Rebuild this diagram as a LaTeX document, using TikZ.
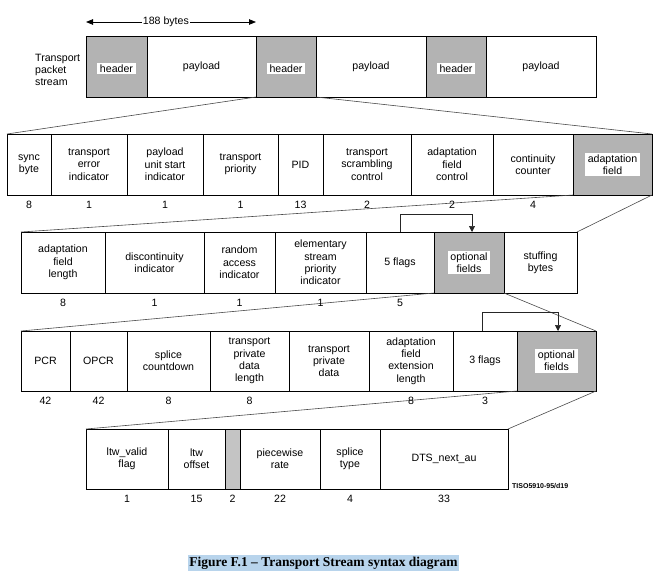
\documentclass[tikz,border=0pt]{standalone}
\usepackage{fontspec}
\setmainfont{Liberation Sans}
\newfontfamily\capfont{Liberation Serif}
\usetikzlibrary{arrows.meta,calc}

\definecolor{fieldgray}{HTML}{B3B3B3}
\definecolor{padgray}{HTML}{C4C4C4}
\definecolor{selblue}{HTML}{B8D4EC}
\definecolor{linkgray}{HTML}{4A4A4A}

\newcommand\fs{\fontsize{10.6}{12.3}\selectfont}

\tikzset{
  field/.style={draw=black, line width=0.9pt, anchor=north west, inner sep=0pt,
                outer sep=0pt, align=center, font=\fs},
  shaded/.style={field, fill=fieldgray},
  tag/.style={fill=white, inner xsep=2.5pt, inner ysep=1.5pt, align=center, font=\fs},
  bits/.style={font=\fs, inner sep=0pt},
  fan/.style={draw=linkgray, line width=0.6pt},
  flagarrow/.style={draw=black!85, line width=0.6pt, -{Triangle[length=6pt,width=6pt]}},
  spanarrow/.style={draw=black, line width=0.8pt,
                    {Triangle[length=7pt,width=5.5pt]}-{Triangle[length=7pt,width=5.5pt]}},
}

\begin{document}
\begin{tikzpicture}[x=1pt, y=-1pt]
\useasboundingbox (0,0) rectangle (660,578);

% ---------- transport packet stream ----------
\node[font=\fs, align=left, anchor=west, inner sep=0pt] (tps) at (35,70) {Transport\\packet\\stream};
\node[shaded, minimum width=61,  minimum height=61] (hdrA) at (86,36)  {};
\node[field,  minimum width=109, minimum height=61] (payA) at (147,36) {payload};
\node[shaded, minimum width=60,  minimum height=61] (hdrB) at (256,36) {};
\node[field,  minimum width=110, minimum height=61] (payB) at (316,36) {payload};
\node[shaded, minimum width=60,  minimum height=61] (hdrC) at (426,36) {};
\node[field,  minimum width=110, minimum height=61] (payC) at (486,36) {payload};
\node[tag] (hdrAt) at ([yshift=-2pt]hdrA) {header};
\node[tag] (hdrBt) at ([yshift=-2pt]hdrB) {header};
\node[tag] (hdrCt) at ([yshift=-2pt]hdrC) {header};

\coordinate (spanL) at ([yshift=14pt]hdrA.north west);
\coordinate (spanR) at ([yshift=14pt]hdrB.north west);
\draw[spanarrow] (spanL) -- (spanR);
\node[font=\fs, fill=white, inner xsep=1pt, inner ysep=0.5pt] (spanlbl) at ($(spanL)!0.47!(spanR)$) {188 bytes};

% ---------- packet header ----------
\node[field,  minimum width=44, minimum height=61] (sync)  at (7,134)   {sync\\byte};
\node[field,  minimum width=76, minimum height=61] (tei)   at (51,134)  {transport\\error\\indicator};
\node[field,  minimum width=76, minimum height=61] (pusi)  at (127,134) {payload\\unit start\\indicator};
\node[field,  minimum width=75, minimum height=61] (tprio) at (203,134) {transport\\priority};
\node[field,  minimum width=45, minimum height=61] (pid)   at (278,134) {PID};
\node[field,  minimum width=88, minimum height=61] (tsc)   at (323,134) {transport\\scrambling\\control};
\node[field,  minimum width=82, minimum height=61] (afc)   at (411,134) {adaptation\\field\\control};
\node[field,  minimum width=80, minimum height=61] (cc)    at (493,134) {continuity\\counter};
\node[shaded, minimum width=79, minimum height=61] (adapt) at (573,134) {};
\node[tag] (adaptt) at (adapt) {adaptation\\field};

% ---------- adaptation field ----------
\node[field,  minimum width=84, minimum height=61] (afl)   at (21,232)  {adaptation\\field\\length};
\node[field,  minimum width=99, minimum height=61] (disc)  at (105,232) {discontinuity\\indicator};
\node[field,  minimum width=71, minimum height=61] (rai)   at (204,232) {random\\access\\indicator};
\node[field,  minimum width=91, minimum height=61] (espi)  at (275,232) {elementary\\stream\\priority\\indicator};
\node[field,  minimum width=68, minimum height=61] (fivef) at (366,232) {5 flags};
\node[shaded, minimum width=70, minimum height=61] (optA)  at (434,232) {};
\node[field,  minimum width=73, minimum height=61] (stuff) at (504,232) {stuffing\\bytes};
\node[tag] (optAt) at (optA) {optional\\fields};

% ---------- optional fields ----------
\node[field,  minimum width=49, minimum height=60] (pcr)    at (21,331)  {PCR};
\node[field,  minimum width=57, minimum height=60] (opcr)   at (70,331)  {OPCR};
\node[field,  minimum width=83, minimum height=60] (splice) at (127,331) {splice\\countdown};
\node[field,  minimum width=79, minimum height=60] (tpdl)   at (210,331) {transport\\private\\data\\length};
\node[field,  minimum width=80, minimum height=60] (tpd)    at (289,331) {transport\\private\\data};
\node[field,  minimum width=84, minimum height=60] (afel)   at (369,331) {adaptation\\field\\extension\\length};
\node[field,  minimum width=64, minimum height=60] (threef) at (453,331) {3 flags};
\node[shaded, minimum width=79, minimum height=60] (optB)   at (517,331) {};
\node[tag] (optBt) at (optB) {optional\\fields};

% ---------- extension fields ----------
\node[field, minimum width=82,  minimum height=60] (ltwv)  at (86,429)  {ltw\_valid\\flag};
\node[field, minimum width=57,  minimum height=60] (ltwo)  at (168,429) {ltw\\offset};
\node[field, minimum width=15,  minimum height=60, fill=padgray] (resv) at (225,429) {};
\node[field, minimum width=80,  minimum height=60] (pwr)   at (240,429) {piecewise\\rate};
\node[field, minimum width=60,  minimum height=60] (stype) at (320,429) {splice\\type};
\node[field, minimum width=128, minimum height=60] (dts)   at (380,429) {DTS\_next\_au};
\node[font=\bfseries\fontsize{7}{8}\selectfont, anchor=base west, inner sep=0pt] (tiso)
  at ([xshift=4pt,yshift=1pt]dts.south east) {TISO5910-95/d19};

% ---------- expansion lines ----------
\draw[fan] (hdrB.south west)  -- (sync.north west);
\draw[fan] (hdrB.south east)  -- (adapt.north east);
\draw[fan] (adapt.south west) -- (afl.north west);
\draw[fan] (adapt.south east) -- (stuff.north east);
\draw[fan] (optA.south west)  -- (pcr.north west);
\draw[fan] (optA.south east)  -- (optB.north east);
\draw[fan] (optB.south west)  -- (ltwv.north west);
\draw[fan] (optB.south east)  -- (dts.north east);

% ---------- flag arrows ----------
\draw[flagarrow] (fivef.north) -- ++(0,-18) -| ([xshift=3pt]optA.north);
\draw[flagarrow] ([xshift=-3pt]threef.north) -- ++(0,-19) -| ([xshift=1.5pt]optB.north);

% ---------- bit counts ----------
\foreach \f/\n in {sync/8, tei/1, pusi/1, tprio/1, pid/13, tsc/2, afc/2, cc/4,
                   afl/8, disc/1, rai/1, espi/1, fivef/5,
                   pcr/42, opcr/42, splice/8, tpdl/8, afel/8, threef/3,
                   ltwv/1, ltwo/15, resv/2, pwr/22, stype/4, dts/33}
  \node[bits] (bits-\f) at ([yshift=-9.5pt]\f.south) {\n};

% ---------- caption ----------
\node[font=\capfont\bfseries\fontsize{13.5}{15}\selectfont, fill=selblue, inner xsep=1pt, inner ysep=1.5pt]
  (caption) at (323.5,563) {Figure F.1 – Transport Stream syntax diagram};
\end{tikzpicture}
\end{document}
